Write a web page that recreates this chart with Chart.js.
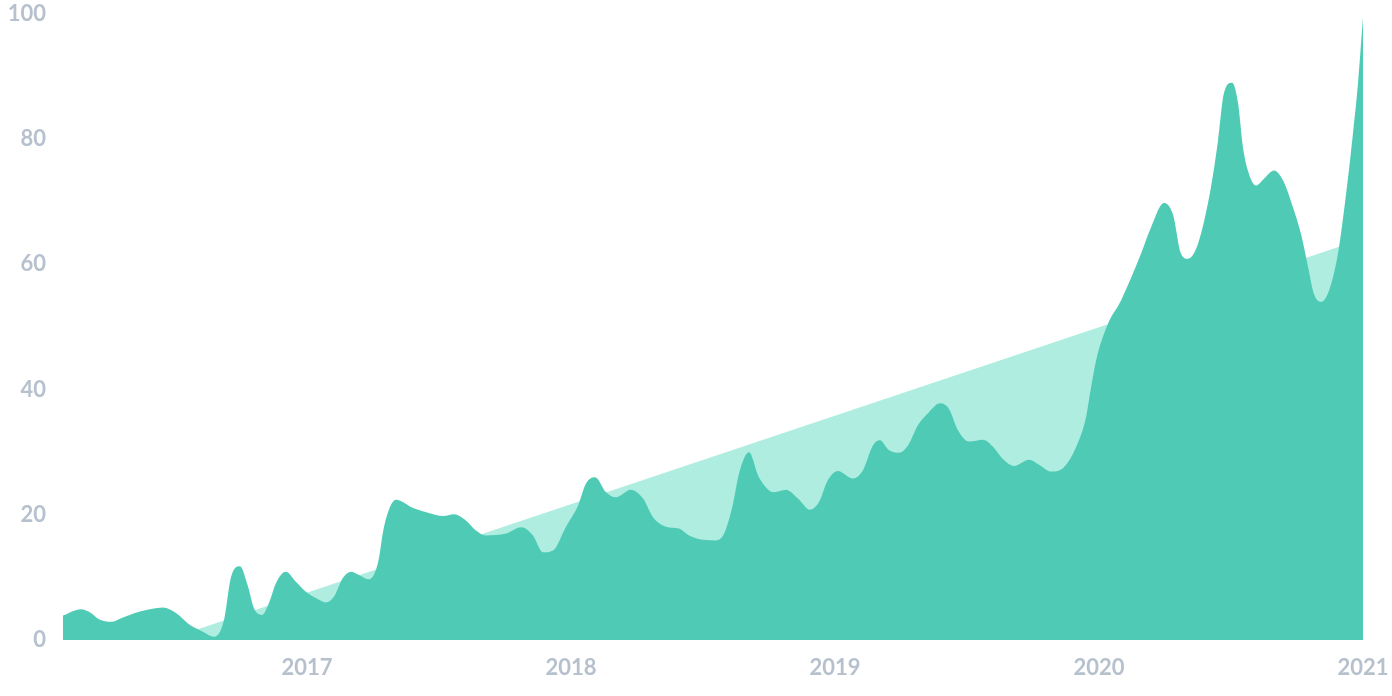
<!DOCTYPE html>
<html>
<head>
<meta charset="utf-8">
<script src="https://cdn.jsdelivr.net/npm/chart.js@4/dist/chart.umd.min.js"></script>
<style>
  html, body { margin: 0; padding: 0; background: #fff; }
  #wrap { width: 1392px; height: 696px; position: relative; }
</style>
</head>
<body>
<div id="wrap"><canvas id="chart"></canvas></div>
<script>
// time in decimal years
const times = [
  2016.076, 2016.144, 2016.182, 2016.212, 2016.258, 2016.303, 2016.364, 2016.455, 2016.504, 2016.553,
  2016.606, 2016.648, 2016.686, 2016.712, 2016.746, 2016.777, 2016.799, 2016.830, 2016.856, 2016.883,
  2016.920, 2016.958, 2016.996, 2017.034, 2017.072, 2017.102, 2017.136, 2017.167, 2017.197, 2017.235,
  2017.269, 2017.292, 2017.337, 2017.402, 2017.462, 2017.515, 2017.557, 2017.602, 2017.640, 2017.678,
  2017.754, 2017.811, 2017.856, 2017.894, 2017.932, 2017.981, 2018.027, 2018.057, 2018.091, 2018.133,
  2018.170, 2018.227, 2018.273, 2018.311, 2018.360, 2018.409, 2018.447, 2018.500, 2018.549, 2018.580,
  2018.614, 2018.636, 2018.674, 2018.712, 2018.769, 2018.814, 2018.860, 2018.905, 2018.939, 2018.973,
  2019.011, 2019.068, 2019.106, 2019.144, 2019.170, 2019.205, 2019.242, 2019.277, 2019.314, 2019.356,
  2019.398, 2019.432, 2019.466, 2019.508, 2019.561, 2019.598, 2019.636, 2019.678, 2019.735, 2019.773,
  2019.818, 2019.867, 2019.913, 2019.951, 2019.962, 2019.989, 2020.034, 2020.083, 2020.159, 2020.197,
  2020.246, 2020.280, 2020.311, 2020.337, 2020.375, 2020.424, 2020.451, 2020.473, 2020.504, 2020.527,
  2020.545, 2020.564, 2020.595, 2020.625, 2020.663, 2020.701, 2020.735, 2020.765, 2020.792, 2020.814,
  2020.841, 2020.871, 2020.905, 2020.936, 2020.962, 2020.981, 2021.000
];
const interest = [
  3.9, 4.9, 4.3, 3.3, 2.9, 3.6, 4.5, 5.2, 4.3, 2.5,
  1.3, 0.5, 3.2, 10, 11.8, 8.5, 5.1, 4, 5.9, 9.1,
  10.9, 9.3, 7.7, 6.7, 6, 6.9, 9.9, 10.9, 10.4, 9.7,
  12.3, 18.1, 22.4, 21.1, 20.3, 19.8, 20.1, 19.1, 17.5, 16.7,
  17, 18, 16.7, 14, 14.3, 18.1, 21.5, 25, 26, 23.6,
  22.8, 24, 22.6, 19.6, 18.1, 17.8, 16.7, 16, 15.9, 17,
  21.8, 26.5, 30, 26, 23.6, 24, 22.6, 20.8, 22, 25.5,
  27, 25.8, 27.1, 31.1, 31.9, 30.3, 29.9, 31.1, 34.3, 36.4,
  37.8, 36.9, 33.5, 31.7, 32, 30.9, 28.9, 27.8, 28.8, 28,
  26.9, 27.6, 30.8, 35.6, 38.3, 44.6, 50.5, 54.2, 61.7, 65.9,
  69.8, 68, 61.7, 60.9, 63.3, 72.3, 79.8, 87.3, 89, 85.7,
  78.8, 75, 72.6, 73.7, 75, 73.1, 69.1, 64.9, 59.6, 55.3,
  54, 55.8, 61.7, 71.3, 80.9, 88.9, 99.5
];
const trendTimes = [2016.076, 2021.000];
const trendValues = [-5.5, 64.1];
const yearTicks = [2017, 2018, 2019, 2020, 2021];

const tickFont = { family: "Lato, 'Open Sans', sans-serif", size: 22, weight: "bold" };
const tickColor = "#b6c1cd";

new Chart(document.getElementById("chart"), {
  type: "line",
  data: {
    datasets: [
      {
        label: "interest",
        data: times.map((t, i) => ({ x: t, y: interest[i] })),
        backgroundColor: "#4fcbb5",
        borderWidth: 0,
        pointRadius: 0,
        cubicInterpolationMode: "monotone",
        fill: "origin",
      },
      {
        label: "trend",
        data: trendTimes.map((t, i) => ({ x: t, y: trendValues[i] })),
        backgroundColor: "#afede1",
        borderWidth: 0,
        pointRadius: 0,
        fill: "origin",
      },
    ],
  },
  options: {
    responsive: true,
    maintainAspectRatio: false,
    animation: false,
    layout: { padding: { top: 14, right: 29, left: 0, bottom: 0 } },
    plugins: { legend: { display: false }, tooltip: { enabled: false } },
    scales: {
      x: {
        type: "linear",
        min: times[0],
        max: times[times.length - 1],
        grid: { display: false, drawTicks: false },
        border: { display: false },
        afterBuildTicks: axis => { axis.ticks = yearTicks.map(v => ({ value: v })); },
        afterFit: axis => {
          axis.height = 56;
          axis.paddingLeft = 0;
          axis.paddingRight = 0;
        },
        ticks: { color: tickColor, font: tickFont, padding: 15, maxRotation: 0, callback: v => String(v) },
      },
      y: {
        min: 0,
        max: 100,
        grid: { display: false, drawTicks: false },
        border: { display: false },
        afterFit: axis => {
          axis.width = 63;
          axis.paddingTop = 0;
          axis.paddingBottom = 0;
        },
        ticks: { stepSize: 20, color: tickColor, font: tickFont, padding: 17, callback: v => String(v) },
      },
    },
  },
});
</script>
</body>
</html>
